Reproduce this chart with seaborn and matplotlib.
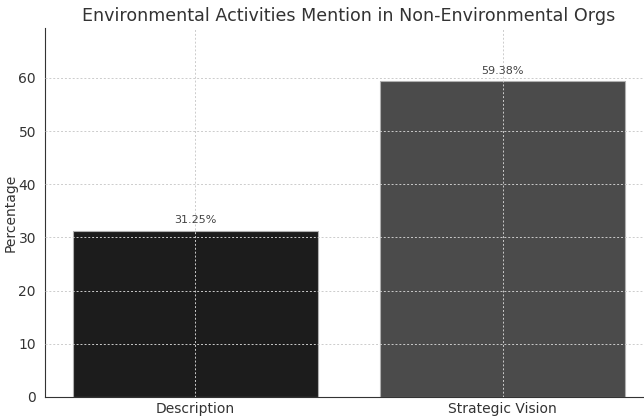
import pandas as pd
import matplotlib
matplotlib.use("Agg")
import matplotlib.pyplot as plt
import seaborn as sns

# === data ===
categories = ["Description", "Strategic Vision"]
percentages = [31.25, 59.38]
bar_colors = ["#1c1c1c", "#4b4b4b"]

df = pd.DataFrame({"Section": categories, "Percentage": percentages})

sns.set_style("white")
plt.rcParams['font.family'] = ['DejaVu Sans']

fig = plt.figure(figsize=(6.44, 4.18), dpi=100)
# axes runs a little past the right edge, as in the cropped reference
ax = fig.add_axes([45 / 644, 21 / 418, 608 / 644, 369 / 418])

sns.barplot(data=df, x="Section", y="Percentage", hue="Section",
            palette=bar_colors, width=0.8, edgecolor="#b0b0b0", linewidth=0.8,
            legend=False, ax=ax)

for i, v in enumerate(percentages):
    ax.text(i, v + 1.0, f"{v:.2f}%", ha="center", va="bottom", fontsize=8, color="#444444")

ax.set_ylim(0, max(percentages) + 10)
ax.set_xlim(-0.49, 1.49)
ax.grid(True, linestyle=(0, (2, 2)), color="#cccccc", linewidth=0.7)
ax.set_axisbelow(False)
ax.set_xlabel("")
ax.set_ylabel("Percentage", fontsize=10, color="#333333")
ax.yaxis.set_label_coords(-0.045, 0.5)
ax.tick_params(axis="both", labelsize=10, colors="#333333", length=3)
ax.tick_params(axis="x", direction="in")
for s in ["top", "right"]:
    ax.spines[s].set_visible(False)
ax.spines["left"].set_color("#333333")
ax.spines["bottom"].set_color("#333333")

fig.text(349 / 644, 1 - 16 / 418, "Environmental Activities Mention in Non-Environmental Orgs",
         ha="center", va="center", fontsize=12.6, color="#333333")

fig.savefig("out.png", dpi=100)
